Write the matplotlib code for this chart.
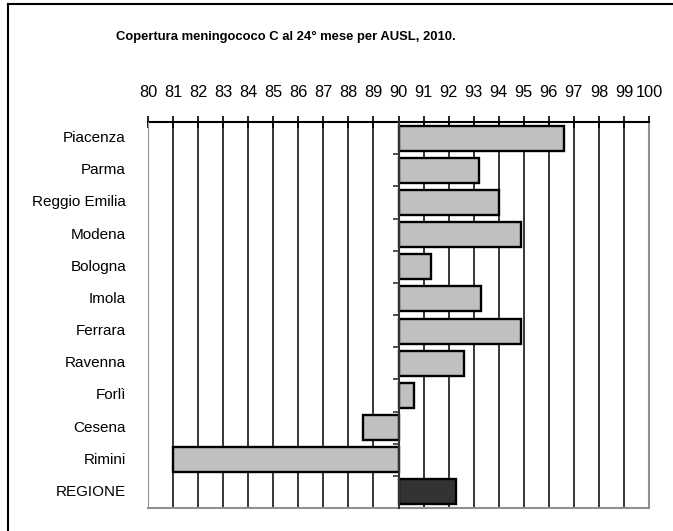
import numpy as np
import matplotlib
matplotlib.use('Agg')
import matplotlib.pyplot as plt
from matplotlib.lines import Line2D

plt.rcParams['font.family'] = ['Liberation Sans', 'DejaVu Sans']

## Dati: copertura meningococco C al 24 mese per AUSL
ausl = ['Piacenza', 'Parma', 'Reggio Emilia', 'Modena', 'Bologna', 'Imola',
        'Ferrara', 'Ravenna', 'Forlì', 'Cesena', 'Rimini', 'REGIONE']
copertura = [96.6, 93.2, 94.0, 94.9, 91.3, 93.3, 94.9, 92.6, 90.6, 88.6, 81.0, 92.3]
base = 90
xticks = list(range(80, 101))

W, H = 673, 531
fig = plt.figure(figsize=(W / 100, H / 100), dpi=100)
ax = fig.add_axes([148 / W, 1 - 508 / H, (649 - 148) / W, (508 - 122) / H])

## Barre che partono da 90
y = np.arange(len(ausl))
colori = ['#c0c0c0'] * (len(ausl) - 1) + ['#333333']
ax.barh(y, np.array(copertura) - base, left=base, height=0.78,
        color=colori, edgecolor='black', linewidth=1.7, zorder=3)

ax.set_xlim(80, 100)
ax.set_ylim(len(ausl) - 0.5, -0.5)

## Asse x in alto
ax.xaxis.tick_top()
ax.set_xticks(xticks)
ax.set_xticklabels([str(v) for v in xticks])
ax.tick_params(axis='x', direction='inout', length=8, width=1.2, color='black',
               labelsize=11.8, pad=12)
ax.grid(True, axis='x', color='black', linewidth=1.1, zorder=1)

## Asse y posizionato a 90
ax.spines['left'].set_position(('data', base))
ax.spines['left'].set_color('#333333')
ax.spines['left'].set_linewidth(1.5)
ax.spines['left'].set_zorder(4)
ax.set_yticks(np.arange(-0.5, len(ausl), 1))
ax.set_yticklabels([])
ax.tick_params(axis='y', direction='out', length=4, width=1.2, color='#333333')

ax.spines['top'].set_color('black')
ax.spines['top'].set_linewidth(1.5)
ax.spines['right'].set_color('#909090')
ax.spines['right'].set_linewidth(1.5)
ax.spines['bottom'].set_color('#909090')
ax.spines['bottom'].set_linewidth(1.5)
ax.axvline(80, color='#909090', linewidth=1.5, zorder=4)

## Etichette delle AUSL
for i, nome in enumerate(ausl):
    ax.text(-22 / 501, i, nome, transform=ax.get_yaxis_transform(),
            ha='right', va='center', fontsize=11)

## Titolo e cornice
fig.text(286 / W, 1 - 37 / H, 'Copertura meningococo C al 24° mese per AUSL, 2010.',
         ha='center', va='center', fontsize=9.4, fontweight='bold')
fig.add_artist(Line2D([8 / W, 8 / W], [0, 1 - 4 / H], color='black', linewidth=1.5))
fig.add_artist(Line2D([8 / W, 1], [1 - 4 / H, 1 - 4 / H], color='black', linewidth=1.5))

fig.savefig('out.png', dpi=100)
